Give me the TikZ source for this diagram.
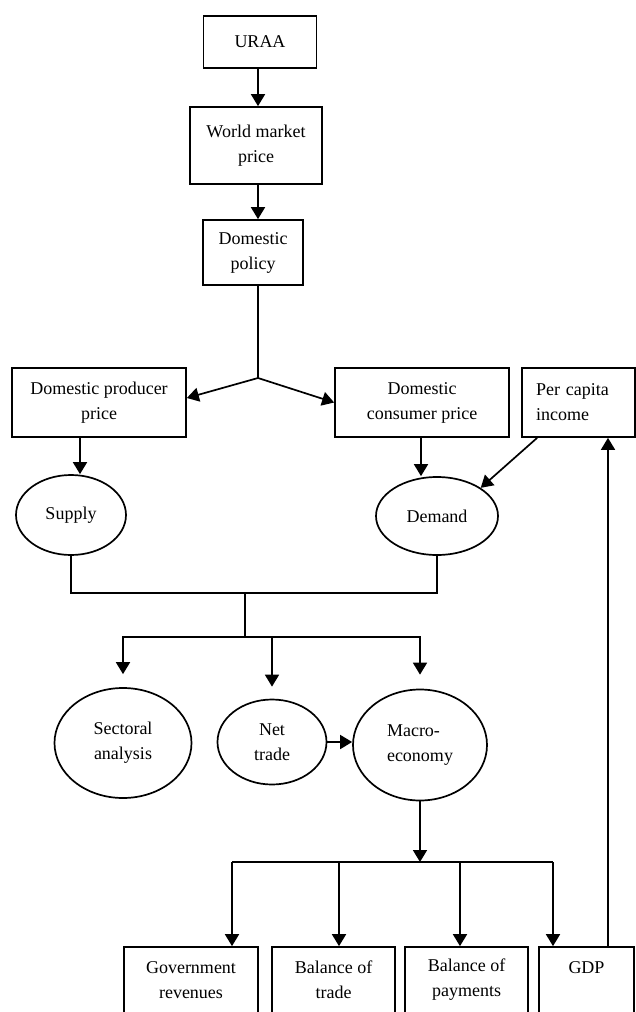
\documentclass[tikz,border=0pt]{standalone}
\usepackage{fontspec}
\setmainfont{Liberation Serif}
\usetikzlibrary{arrows.meta,shapes.geometric}
\begin{document}
\begin{tikzpicture}[x=1pt,y=-1pt,
  box/.style={draw,line width=1.7pt,rectangle,inner sep=0pt,align=center,font=\fontsize{18}{25}\selectfont},
  oval/.style={draw,line width=1.7pt,ellipse,inner sep=0pt,align=center,font=\fontsize{18}{25}\selectfont},
  arr/.style={line width=1.7pt,-{Triangle[length=12pt,width=14pt]}},
  link/.style={line width=1.7pt}]
\useasboundingbox (0,0) rectangle (636,1012);
\clip (0,0) rectangle (636,1012);
% helper coordinates
\coordinate (cx) at (258,0);
\coordinate (ax) at (80,0);
\coordinate (dx) at (421,0);
\coordinate (gx) at (608,0);
\coordinate (J) at (258,378);
\coordinate (J2) at (245,593);
\coordinate (J3) at (245,637);
\coordinate (B) at (418,862);
\coordinate (bl) at (232,862);
\coordinate (b2) at (339,862);
\coordinate (b3) at (460,862);
\coordinate (br) at (553,862);
% nodes
\node[box,minimum width=113pt,minimum height=52pt] (uraa) at (260,42) {URAA};
\node[box,minimum width=132pt,minimum height=77pt] (world) at (256,145.5) {World market\\price};
\node[box,minimum width=100pt,minimum height=65pt] (policy) at (253,252.5) {Domestic\\policy};
\node[box,minimum width=174pt,minimum height=69pt] (prod) at (99,402.5) {Domestic producer\\price};
\node[box,minimum width=174pt,minimum height=69pt] (cons) at (422,402.5) {Domestic\\consumer price};
\node[box,align=left,text width=85pt,inner xsep=14pt,minimum height=69pt] (percap) at (578.5,402.5) {Per capita\\income};
\node[oval,minimum width=110pt,minimum height=80pt] (supply) at (71,515) {Supply};
\node[oval,minimum width=122pt,minimum height=78pt] (demand) at (437,516) {Demand};
\node[oval,minimum width=137pt,minimum height=110pt] (sect) at (123,743) {Sectoral\\analysis};
\node[oval,minimum width=109pt,minimum height=85pt] (net) at (272,742) {Net\\trade};
\node[oval,minimum width=134pt,minimum height=111pt,align=left] (macro) at (420,745) {Macro-\\economy};
\node[box,minimum width=134pt,minimum height=66pt] (gov) at (191,980) {Government\\revenues};
\node[box,minimum width=123pt,minimum height=66pt] (bot) at (333.5,980) {Balance of\\trade};
\node[box,minimum width=123pt,minimum height=66pt] (bop) at (466.5,980) {Balance of\\payments};
\node[box,minimum width=95pt,minimum height=66pt] (gdp) at (586.5,980) {GDP\\~};
% connectors
\draw[arr] (uraa.south -| cx) -- (world.north -| cx);
\draw[arr] (world.south -| cx) -- (policy.north -| cx);
\draw[link] (policy.south -| cx) -- (J);
\draw[arr] (J) -- ([yshift=4.5pt]prod.east);
\draw[arr] (J) -- (cons.west);
\draw[arr] (prod.south -| ax) -- (supply.north -| ax);
\draw[arr] (cons.south -| dx) -- (demand.north -| dx);
\draw[arr] ([xshift=16pt]percap.south west) -- (demand.north east);
\draw[arr] (gdp.north -| gx) -- (percap.south -| gx);
\draw[link] (supply.south) |- (J2) -| (demand.south);
\draw[link] (J2) -- (J3);
\draw[arr,shorten >=13pt] (J3) -| (sect.north);
\draw[arr,shorten >=12pt] (J3) -| (net.north);
\draw[arr,shorten >=14pt] (J3) -| (macro.north);
\draw[arr] (net.east) -- (net.east -| macro.west);
\draw[arr] (macro.south) -- (macro.south |- B);
\draw[link] (bl) -- (br);
\draw[arr] (bl) -- (bl |- gov.north);
\draw[arr] (b2) -- (b2 |- bot.north);
\draw[arr] (b3) -- (b3 |- bop.north);
\draw[arr] (br) -- (br |- gdp.north);
\end{tikzpicture}
\end{document}
